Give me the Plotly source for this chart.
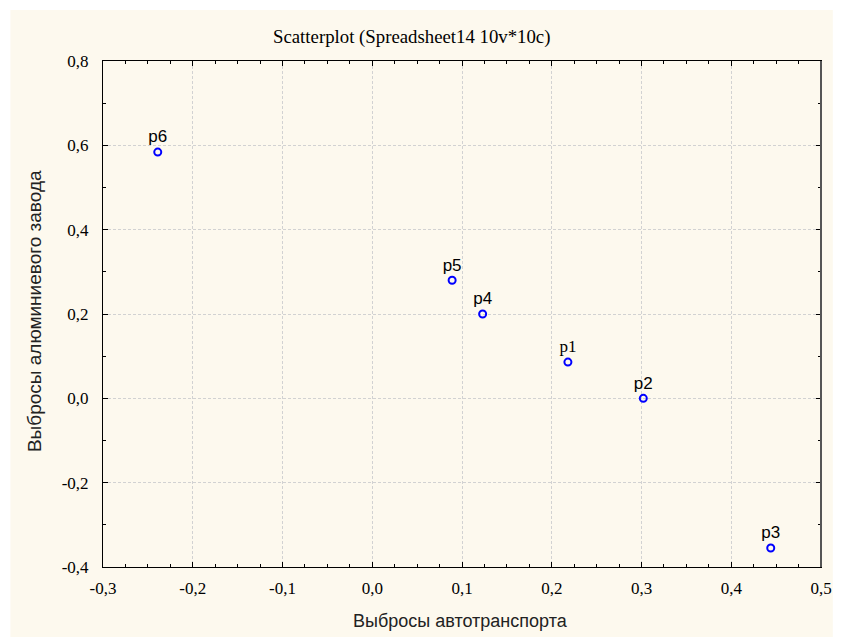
import plotly.graph_objects as go

labels = ["p1", "p2", "p3", "p4", "p5", "p6"]
x_vals = [0.218, 0.302, 0.444, 0.123, 0.089, -0.239]
y_vals = [0.086, 0.000, -0.355, 0.200, 0.280, 0.584]
label_fonts = ["Liberation Serif", "Liberation Sans", "Liberation Sans",
               "Liberation Sans", "Liberation Sans", "Liberation Sans"]

x_ticks = [-0.3, -0.2, -0.1, 0.0, 0.1, 0.2, 0.3, 0.4, 0.5]
x_tick_text = ["-0,3", "-0,2", "-0,1", "0,0", "0,1", "0,2", "0,3", "0,4", "0,5"]
y_ticks = [-0.4, -0.2, 0.0, 0.2, 0.4, 0.6, 0.8]
y_tick_text = ["-0,4", "-0,2", "0,0", "0,2", "0,4", "0,6", "0,8"]

cream = "#FDF9EE"
W, H = 844, 637
L, R, T, B = 103, 12, 61, 70
PW, PH = W - L - R, H - T - B

fig = go.Figure()
fig.add_trace(go.Scatter(
    x=x_vals, y=y_vals, mode="markers+text",
    text=labels, textposition="top center",
    textfont=dict(family=label_fonts, size=17, color="black"),
    marker=dict(symbol="circle-open", size=7, color="#0000FF",
                line=dict(width=2, color="#0000FF")),
    hoverinfo="skip", showlegend=False, cliponaxis=False,
))

axis_common = dict(
    showline=True, linecolor="black", linewidth=1, mirror="ticks",
    ticks="inside", ticklen=5, tickcolor="black",
    showgrid=True, gridcolor="#D2D2D2", griddash="3px,2px", gridwidth=1,
    zeroline=False, ticklabeloverflow="allow",
    tickfont=dict(family="Liberation Serif", size=17, color="black"),
)

fig.update_xaxes(
    range=[-0.3, 0.5], tickvals=x_ticks, ticktext=x_tick_text,
    minor=dict(dtick=0.025, tick0=-0.3, ticks="inside", ticklen=3, tickcolor="black", showgrid=False),
    ticklabelstandoff=6,
    **axis_common,
)
fig.update_yaxes(
    range=[-0.4, 0.8], tickvals=y_ticks, ticktext=y_tick_text,
    minor=dict(dtick=0.1, tick0=-0.4, ticks="inside", ticklen=3, tickcolor="black", showgrid=False),
    ticklabelstandoff=10,
    **axis_common,
)

fig.update_layout(
    width=W, height=H, autosize=False,
    margin=dict(l=L, r=R, t=T, b=B),
    paper_bgcolor="white", plot_bgcolor="white",
    shapes=[
        dict(type="rect", xref="paper", yref="paper", layer="below",
             x0=-(L - 9) / PW, x1=1 + R / PW, y0=-B / PH, y1=1 + (T - 10) / PH,
             fillcolor=cream, line=dict(width=0)),
        dict(type="line", xref="paper", yref="paper", x0=1, x1=1, y0=0, y1=1,
             line=dict(color="#555555", width=2)),
    ],
    annotations=[
        dict(text="Scatterplot (Spreadsheet14 10v*10c)", xref="paper", yref="paper",
             x=(416 - L) / PW, y=1 + (T - 37) / PH, showarrow=False,
             xanchor="center", yanchor="middle",
             font=dict(family="Liberation Serif", size=18.8, color="black")),
        dict(text="Выбросы автотранспорта", xref="paper", yref="paper",
             x=(466 - L) / PW, y=-(621 - T - PH) / PH, showarrow=False,
             xanchor="center", yanchor="middle",
             font=dict(family="Liberation Sans", size=18, color="#222222")),
        dict(text="Выбросы алюминиевого завода", xref="paper", yref="paper",
             x=-(L - 33) / PW, y=1 - (311 - T) / PH, showarrow=False, textangle=-90,
             xanchor="center", yanchor="middle",
             font=dict(family="Liberation Sans", size=19, color="#222222")),
    ],
)

fig.write_html(
    "out.html",
    config={"displayModeBar": False, "responsive": False},
    post_script="document.body.style.margin='0';document.body.style.overflow='hidden';",
)
